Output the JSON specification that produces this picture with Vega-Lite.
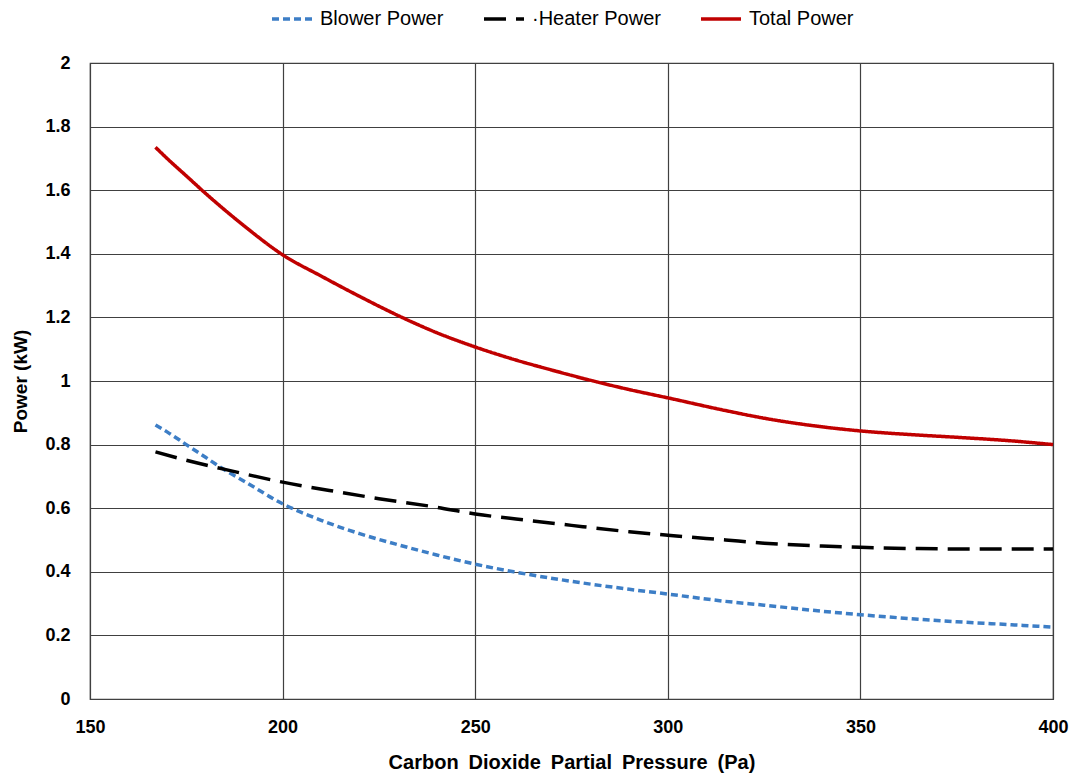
{
  "$schema": "https://vega.github.io/schema/vega-lite/v6.json",
  "width": 963,
  "height": 636,
  "autosize": {"type": "none"},
  "padding": {"left": 90, "top": 63, "right": 20, "bottom": 76},
  "background": "white",
  "config": {
    "font": "Liberation Sans",
    "view": {"stroke": "#404040", "strokeWidth": 1.2}
  },
  "data": {
    "values": [
      {"p": 167, "power": 0.862, "series": "Blower Power"},
      {"p": 170, "power": 0.84, "series": "Blower Power"},
      {"p": 175, "power": 0.8, "series": "Blower Power"},
      {"p": 180, "power": 0.76, "series": "Blower Power"},
      {"p": 185, "power": 0.72, "series": "Blower Power"},
      {"p": 190, "power": 0.685, "series": "Blower Power"},
      {"p": 200, "power": 0.614, "series": "Blower Power"},
      {"p": 210, "power": 0.562, "series": "Blower Power"},
      {"p": 220, "power": 0.52, "series": "Blower Power"},
      {"p": 230, "power": 0.485, "series": "Blower Power"},
      {"p": 240, "power": 0.453, "series": "Blower Power"},
      {"p": 250, "power": 0.424, "series": "Blower Power"},
      {"p": 260, "power": 0.4, "series": "Blower Power"},
      {"p": 275, "power": 0.37, "series": "Blower Power"},
      {"p": 290, "power": 0.345, "series": "Blower Power"},
      {"p": 300, "power": 0.33, "series": "Blower Power"},
      {"p": 315, "power": 0.307, "series": "Blower Power"},
      {"p": 325, "power": 0.295, "series": "Blower Power"},
      {"p": 340, "power": 0.276, "series": "Blower Power"},
      {"p": 350, "power": 0.265, "series": "Blower Power"},
      {"p": 365, "power": 0.251, "series": "Blower Power"},
      {"p": 375, "power": 0.243, "series": "Blower Power"},
      {"p": 390, "power": 0.233, "series": "Blower Power"},
      {"p": 400, "power": 0.226, "series": "Blower Power"},
      {"p": 167, "power": 0.777, "series": "Heater Power"},
      {"p": 175, "power": 0.751, "series": "Heater Power"},
      {"p": 185, "power": 0.722, "series": "Heater Power"},
      {"p": 200, "power": 0.682, "series": "Heater Power"},
      {"p": 215, "power": 0.65, "series": "Heater Power"},
      {"p": 225, "power": 0.63, "series": "Heater Power"},
      {"p": 240, "power": 0.603, "series": "Heater Power"},
      {"p": 250, "power": 0.582, "series": "Heater Power"},
      {"p": 265, "power": 0.56, "series": "Heater Power"},
      {"p": 275, "power": 0.546, "series": "Heater Power"},
      {"p": 290, "power": 0.526, "series": "Heater Power"},
      {"p": 300, "power": 0.515, "series": "Heater Power"},
      {"p": 315, "power": 0.5, "series": "Heater Power"},
      {"p": 325, "power": 0.49, "series": "Heater Power"},
      {"p": 340, "power": 0.481, "series": "Heater Power"},
      {"p": 350, "power": 0.477, "series": "Heater Power"},
      {"p": 365, "power": 0.473, "series": "Heater Power"},
      {"p": 375, "power": 0.472, "series": "Heater Power"},
      {"p": 390, "power": 0.472, "series": "Heater Power"},
      {"p": 400, "power": 0.472, "series": "Heater Power"},
      {"p": 167, "power": 1.735, "series": "Total Power"},
      {"p": 170, "power": 1.7, "series": "Total Power"},
      {"p": 175, "power": 1.645, "series": "Total Power"},
      {"p": 180, "power": 1.59, "series": "Total Power"},
      {"p": 190, "power": 1.488, "series": "Total Power"},
      {"p": 200, "power": 1.397, "series": "Total Power"},
      {"p": 210, "power": 1.33, "series": "Total Power"},
      {"p": 220, "power": 1.266, "series": "Total Power"},
      {"p": 231, "power": 1.2, "series": "Total Power"},
      {"p": 240, "power": 1.152, "series": "Total Power"},
      {"p": 250, "power": 1.107, "series": "Total Power"},
      {"p": 260, "power": 1.068, "series": "Total Power"},
      {"p": 270, "power": 1.034, "series": "Total Power"},
      {"p": 280, "power": 1.002, "series": "Total Power"},
      {"p": 290, "power": 0.973, "series": "Total Power"},
      {"p": 300, "power": 0.947, "series": "Total Power"},
      {"p": 315, "power": 0.907, "series": "Total Power"},
      {"p": 325, "power": 0.883, "series": "Total Power"},
      {"p": 340, "power": 0.856, "series": "Total Power"},
      {"p": 350, "power": 0.843, "series": "Total Power"},
      {"p": 365, "power": 0.83, "series": "Total Power"},
      {"p": 375, "power": 0.823, "series": "Total Power"},
      {"p": 390, "power": 0.811, "series": "Total Power"},
      {"p": 400, "power": 0.8, "series": "Total Power"}
    ]
  },
  "mark": {"type": "line", "interpolate": "monotone", "strokeCap": "butt"},
  "encoding": {
    "x": {
      "field": "p",
      "type": "quantitative",
      "scale": {"domain": [150, 400], "nice": false, "zero": false},
      "axis": {
        "title": "Carbon\u2002Dioxide\u2002Partial\u2002Pressure\u2002(Pa)",
        "values": [150, 200, 250, 300, 350, 400],
        "grid": true,
        "gridColor": "#404040",
        "gridOpacity": 1,
        "gridWidth": 1.2,
        "domainColor": "#404040",
        "ticks": false,
        "labelFlush": false,
        "labelFont": "Liberation Sans",
        "labelFontSize": 18,
        "labelFontWeight": "bold",
        "labelColor": "#000000",
        "labelPadding": 19,
        "titleFont": "Liberation Sans",
        "titleFontSize": 20,
        "titleFontWeight": "bold",
        "titleColor": "#000000",
        "titlePadding": 16
      }
    },
    "y": {
      "field": "power",
      "type": "quantitative",
      "scale": {"domain": [0, 2], "nice": false},
      "axis": {
        "title": "Power (kW)",
        "values": [0, 0.2, 0.4, 0.6, 0.8, 1, 1.2, 1.4, 1.6, 1.8, 2],
        "format": "~g",
        "grid": true,
        "gridColor": "#404040",
        "gridOpacity": 1,
        "gridWidth": 1.2,
        "domainColor": "#404040",
        "ticks": false,
        "labelFlush": false,
        "labelFont": "Liberation Sans",
        "labelFontSize": 18,
        "labelFontWeight": "bold",
        "labelColor": "#000000",
        "labelPadding": 20,
        "titleFont": "Liberation Sans",
        "titleFontSize": 19,
        "titleFontWeight": "bold",
        "titleColor": "#000000",
        "titlePadding": 14
      }
    },
    "color": {
      "field": "series",
      "type": "nominal",
      "scale": {
        "domain": ["Blower Power", "Heater Power", "Total Power"],
        "range": ["#3D7EC6", "#000000", "#C00000"]
      },
      "legend": {
        "title": null,
        "orient": "none",
        "direction": "horizontal",
        "legendX": 180,
        "legendY": -66,
        "symbolType": "stroke",
        "symbolSize": 1600,
        "symbolStrokeWidth": 3,
        "labelFont": "Liberation Sans",
        "labelFontSize": 20,
        "labelColor": "#000000",
        "labelOffset": 6,
        "columnPadding": 33,
        "labelExpr": "datum.label == 'Heater Power' ? '\u00b7Heater Power' : datum.label"
      }
    },
    "strokeDash": {
      "field": "series",
      "type": "nominal",
      "scale": {
        "domain": ["Blower Power", "Heater Power", "Total Power"],
        "range": [[7, 4], [22, 10], [1, 0]]
      },
      "legend": null
    },
    "strokeWidth": {
      "field": "series",
      "type": "nominal",
      "scale": {
        "domain": ["Blower Power", "Heater Power", "Total Power"],
        "range": [3.5, 3.5, 1.8]
      },
      "legend": null
    }
  }
}
